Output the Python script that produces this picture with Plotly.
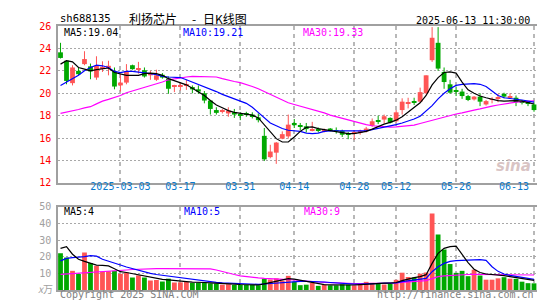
import plotly.graph_objects as go

dates = ["02-17","02-18","02-19","02-20","02-21","02-24","02-25","02-26","02-27","02-28",
         "03-03","03-04","03-05","03-06","03-07","03-10","03-11","03-12","03-13","03-14",
         "03-17","03-18","03-19","03-20","03-21","03-24","03-25","03-26","03-27","03-28",
         "03-31","04-01","04-02","04-03","04-07","04-08","04-09","04-10","04-11","04-14",
         "04-15","04-16","04-17","04-18","04-21","04-22","04-23","04-24","04-25","04-28",
         "04-29","04-30","05-06","05-07","05-08","05-09","05-12","05-13","05-14","05-15",
         "05-16","05-19","05-20","05-21","05-22","05-23","05-26","05-27","05-28","05-29",
         "05-30","06-03","06-04","06-05","06-06","06-09","06-10","06-11","06-12","06-13"]

open_ = [23.65,22.9,20.9,22.0,22.6,22.4,21.4,22.2,22.3,21.95,
         20.7,20.95,22.5,22.15,22.05,21.6,21.2,21.65,21.3,20.6,
         20.62,20.65,20.55,20.35,20.0,19.35,18.5,18.35,18.2,18.3,
         18.15,18.2,18.1,17.85,16.2,14.3,14.7,15.95,16.15,17.35,
         17.1,17.05,16.7,16.8,16.55,16.85,16.72,16.65,16.35,16.4,
         16.45,16.6,17.1,17.6,17.65,17.8,17.5,18.5,19.1,19.3,
         19.25,20.0,22.95,24.5,21.9,20.8,20.25,20.15,19.75,19.45,
         19.7,19.0,19.4,19.55,19.95,19.6,19.6,19.25,19.15,19.0]
high = [24.5,22.95,22.5,22.3,23.75,22.65,23.3,22.85,22.9,22.3,
        21.7,22.6,22.55,22.8,22.3,22.0,22.1,21.8,21.5,20.75,
        20.9,21.2,20.7,20.7,20.2,19.4,18.75,18.6,18.75,18.6,
        18.3,18.35,18.3,18.2,16.9,15.4,15.65,16.6,18.1,17.7,
        17.35,17.35,17.45,16.95,16.85,16.9,16.95,16.75,16.55,16.65,
        16.75,17.0,17.75,18.0,18.1,17.85,18.5,19.55,19.6,19.6,
        20.5,21.6,25.9,25.9,22.3,21.2,20.6,20.4,19.85,19.75,
        20.0,19.4,19.65,19.95,20.05,20.0,19.8,19.4,19.3,19.2]
low = [23.1,20.8,20.7,21.6,22.5,21.25,21.2,21.9,21.6,20.35,
       20.15,20.8,22.1,21.75,21.4,21.2,21.1,21.3,19.95,20.1,
       20.25,20.3,20.0,19.95,19.1,18.1,18.1,18.2,17.9,17.8,
       17.6,17.9,17.75,17.4,13.95,14.2,13.7,15.9,15.95,16.9,
       16.7,16.5,16.6,16.5,16.5,16.6,16.4,16.1,15.9,15.85,
       16.3,16.5,17.0,17.25,17.3,17.3,17.4,18.1,18.65,18.95,
       19.2,19.9,22.8,22.0,20.4,19.95,19.75,19.5,19.3,19.35,
       18.85,18.9,19.1,19.2,19.55,19.5,18.85,19.0,18.85,18.35]
close = [23.15,21.1,22.3,21.7,23.05,21.95,22.45,22.35,22.45,20.6,
         20.95,21.95,22.15,22.25,21.5,21.8,21.6,21.4,20.4,20.7,
         20.68,20.75,20.35,20.15,19.35,18.6,18.25,18.45,18.45,18.1,
         18.05,18.1,17.95,17.6,14.1,14.8,15.6,16.35,17.2,17.15,
         17.05,16.8,16.8,16.72,16.75,16.7,16.65,16.3,16.3,16.45,
         16.65,16.85,17.5,17.5,17.95,17.38,18.3,19.25,19.2,19.2,
         20.1,21.6,24.95,22.2,21.0,20.05,20.2,19.75,19.4,19.7,
         19.25,19.3,19.45,19.65,19.7,19.7,19.2,19.2,19.1,18.5]
volume = [22.0,19.5,11.5,9.6,22.5,16.2,14.5,11.0,11.3,11.5,
          9.7,10.5,7.5,8.8,7.5,5.7,6.0,5.1,6.8,4.5,
          4.6,4.8,4.3,4.2,4.5,4.0,3.9,3.2,3.5,3.0,
          3.0,3.0,3.0,2.9,6.8,6.3,7.0,5.6,8.5,5.0,
          2.9,3.2,4.2,2.5,3.2,2.8,2.8,3.4,3.2,2.8,
          3.8,4.9,4.3,4.2,3.3,3.6,6.1,10.4,7.8,7.5,
          9.8,10.5,46.0,33.3,24.4,15.6,10.3,11.5,8.3,12.2,
          8.7,6.2,6.2,7.0,7.7,6.8,6.7,5.0,4.1,4.0]

ma5 = [22.6,22.9,22.8,22.3,22.15,22.0,22.1,22.15,22.25,21.85,
       21.7,21.6,21.6,21.6,21.75,21.8,21.75,21.6,21.3,21.1,
       20.9,20.75,20.45,20.15,19.8,19.35,18.95,18.7,18.45,18.3,
       18.2,18.15,18.05,17.8,17.2,16.5,15.95,15.65,15.65,16.1,
       16.6,16.95,17.0,16.85,16.75,16.65,16.55,16.45,16.4,16.4,
       16.5,16.6,16.8,17.05,17.25,17.4,17.6,17.9,18.3,18.75,
       19.15,19.8,20.75,21.4,21.85,21.9,21.8,21.0,20.3,20.0,
       19.75,19.6,19.45,19.35,19.3,19.35,19.35,19.3,19.2,19.04]
ma10 = [20.7,21.0,21.3,21.6,22.0,22.3,22.5,22.45,22.3,21.95,
        21.85,21.95,21.95,21.9,21.85,21.75,21.65,21.5,21.45,21.45,
        21.4,21.2,21.0,20.8,20.6,20.35,20.15,19.9,19.7,19.5,
        19.3,19.1,18.75,18.3,17.8,17.35,17.1,16.85,16.7,16.65,
        16.6,16.45,16.4,16.45,16.6,16.65,16.65,16.65,16.6,16.6,
        16.6,16.65,16.75,16.85,16.95,17.05,17.2,17.35,17.5,17.7,
        17.95,18.4,18.9,19.5,20.0,20.4,20.7,20.8,20.85,20.85,
        20.8,20.6,20.2,19.8,19.6,19.55,19.5,19.4,19.3,19.21]
ma30 = [18.2,18.3,18.4,18.55,18.7,18.8,19.05,19.3,19.45,19.6,
        19.8,20.05,20.2,20.4,20.55,20.7,20.85,21.0,21.2,21.3,
        21.4,21.45,21.5,21.5,21.5,21.5,21.45,21.3,21.15,21.05,
        20.95,20.8,20.6,20.4,20.15,19.9,19.6,19.35,19.15,19.0,
        18.85,18.75,18.55,18.4,18.25,18.05,17.9,17.75,17.6,17.45,
        17.3,17.2,17.1,17.05,17.0,16.98,17.0,17.03,17.1,17.15,
        17.3,17.45,17.6,17.75,17.9,18.0,18.15,18.25,18.4,18.5,
        18.6,18.75,18.85,18.95,19.05,19.15,19.2,19.25,19.3,19.33]
vol_ma5 = [25.0,26.0,21.5,18.5,17.2,16.0,14.9,14.8,14.5,12.8,
           11.0,10.5,9.8,9.0,8.5,7.8,7.0,6.4,6.1,5.6,
           5.3,5.0,4.7,4.4,4.5,4.3,4.2,4.0,3.8,3.5,
           3.3,3.2,3.1,3.0,3.7,4.4,5.2,5.8,6.8,6.5,
           5.8,5.0,4.6,3.6,3.2,3.1,3.0,3.0,3.1,3.0,
           3.2,3.5,3.8,4.2,4.1,4.1,4.5,5.6,6.6,7.4,
           8.0,9.2,16.0,22.0,25.0,26.0,26.3,21.0,16.5,12.5,
           10.5,9.6,9.3,9.2,8.6,8.0,7.5,7.0,6.6,5.8]
vol_ma10 = [17.5,19.0,19.4,19.5,20.0,20.6,20.3,18.5,17.2,16.0,
            15.0,13.8,12.8,11.7,10.8,10.0,9.3,8.8,8.2,7.7,
            7.2,6.8,6.4,6.0,5.5,5.0,4.6,4.3,4.1,3.9,
            3.7,3.6,3.5,3.4,3.6,3.9,4.2,4.5,5.0,5.2,
            5.2,5.2,5.2,5.0,4.8,4.5,4.2,3.9,3.7,3.5,
            3.5,3.6,3.6,3.7,3.8,4.0,4.3,5.0,5.4,5.8,
            6.3,7.0,11.0,14.0,16.0,17.2,17.6,17.8,18.0,18.2,
            18.2,17.8,14.0,11.2,9.6,8.8,8.3,7.7,7.2,6.4]
vol_ma30 = [9.4,9.6,9.8,10.0,10.2,10.4,10.6,10.8,11.1,11.4,
            11.7,12.0,12.3,12.5,12.6,12.7,12.8,12.8,12.8,12.8,
            12.8,12.8,12.8,12.8,12.8,12.7,12.0,11.0,10.0,9.3,
            8.5,8.0,7.6,7.3,7.0,6.7,6.5,6.3,6.2,6.0,
            5.6,5.3,5.0,4.8,4.6,4.4,4.2,4.0,3.9,3.9,
            3.9,3.9,3.9,3.9,4.0,4.0,4.2,4.6,4.9,5.1,
            5.3,5.6,6.8,8.0,8.5,8.8,9.0,9.2,9.3,9.4,
            9.4,9.4,9.4,9.4,9.3,9.3,9.2,9.2,9.1,9.0]

price_ticks = [12, 14, 16, 18, 20, 22, 24, 26]
vol_ticks = [10, 20, 30, 40, 50]
date_ticks = ["03-03", "03-17", "03-31", "04-14", "04-28", "05-12", "05-26", "06-13"]
date_tick_labels = ["2025-03-03", "03-17", "03-31", "04-14", "04-28", "05-12", "05-26", "06-13"]

RED = "#ff5555"
GREEN = "#00a800"
MONO = "DejaVu Sans Mono"
CJK = "Noto Sans CJK SC"

up = [c >= o for o, c in zip(open_, close)]
colors = [RED if u else GREEN for u in up]
body_base = [min(o, c) for o, c in zip(open_, close)]
body_h = [max(abs(c - o), 0.07) for o, c in zip(open_, close)]

fig = go.Figure()

# wicks
for flag, col in ((True, RED), (False, GREEN)):
    wx, wy = [], []
    for d, h, l, u in zip(dates, high, low, up):
        if u == flag:
            wx += [d, d, None]
            wy += [l, h, None]
    fig.add_trace(go.Scatter(x=wx, y=wy, mode="lines", line=dict(color=col, width=1),
                             xaxis="x", yaxis="y", hoverinfo="skip"))

fig.add_trace(go.Bar(x=dates, y=body_h, base=body_base, width=0.8,
                     marker=dict(color=colors, line=dict(width=0)), xaxis="x", yaxis="y"))

for vals, col in ((ma30, "#ff00ff"), (ma10, "#0000ff"), (ma5, "#000000")):
    fig.add_trace(go.Scatter(x=dates, y=vals, mode="lines", line=dict(color=col, width=1.2),
                             xaxis="x", yaxis="y"))

fig.add_trace(go.Bar(x=dates, y=volume, width=0.8,
                     marker=dict(color=colors, line=dict(width=0)), xaxis="x2", yaxis="y2"))
for vals, col in ((vol_ma30, "#ff00ff"), (vol_ma10, "#0000ff"), (vol_ma5, "#000000")):
    fig.add_trace(go.Scatter(x=dates, y=vals, mode="lines", line=dict(color=col, width=1.2),
                             xaxis="x2", yaxis="y2"))

xcommon = dict(type="category", categoryorder="array", categoryarray=dates,
               range=[-0.42, len(dates) - 0.5], tickvals=date_ticks,
               showgrid=True, gridcolor="#b8b8b8", gridwidth=1.5, griddash="4px,4px",
               showline=True, mirror=True, linecolor="#a0a0a0", linewidth=1.5,
               ticks="", zeroline=False, fixedrange=True)

fig.update_layout(
    width=545, height=300,
    margin=dict(l=50, r=16, t=18, b=14),
    paper_bgcolor="white", plot_bgcolor="white",
    showlegend=False, hovermode=False, barmode="overlay",
    xaxis=dict(**xcommon, anchor="y",
               ticktext=date_tick_labels[:-1] + [""],
               ticklabelstandoff=-7,
               tickfont=dict(family=MONO, size=10, color="#0a7acc")),
    xaxis2=dict(**xcommon, anchor="y2", matches="x", showticklabels=False),
    yaxis=dict(domain=[0.4056, 1.0], range=[12, 26], tickvals=price_ticks,
               tickfont=dict(family=MONO, size=10, color="#ff0000"),
               showgrid=True, gridcolor="#a8a8a8", gridwidth=1, griddash="2px,2px",
               showline=True, mirror=True, linecolor="#a0a0a0", linewidth=1.5,
               zeroline=False, ticks="", ticklabelstandoff=3, fixedrange=True),
    yaxis2=dict(domain=[0.0, 0.3153], range=[0, 50], tickvals=vol_ticks,
                tickfont=dict(family=MONO, size=10, color="#a0a0a0"),
                showgrid=True, gridcolor="#a8a8a8", gridwidth=1, griddash="2px,2px",
                showline=True, mirror=True, linecolor="#a0a0a0", linewidth=1.5,
                zeroline=False, ticks="", ticklabelstandoff=3, fixedrange=True),
)

def txt(x, y, s, color, size=10, family=MONO, xanchor="left", xref="paper", yref="paper"):
    fig.add_annotation(x=x, y=y, xref=xref, yref=yref, text=s, showarrow=False,
                       xanchor=xanchor, yanchor="middle",
                       font=dict(family=family, size=size, color=color))

# header
txt(0.0, 1.030, "sh688135", "#000000", size=10.5)
txt(0.1446, 1.029, "利扬芯片", "#000000", size=12, family=CJK)
txt(0.2756, 1.029, "-", "#000000", size=12, family=CJK)
txt(0.2990, 1.029, "日K线图", "#000000", size=12, family=CJK)
txt(0.99, 1.022, "2025-06-13 11:30:00", "#000000", xanchor="right")

# MA labels
txt(0.008, 0.974, "MA5:%.2f" % ma5[-1], "#000000")
txt(0.256, 0.974, "MA10:%.2f" % ma10[-1], "#0000ff")
txt(0.508, 0.974, "MA30:%.2f" % ma30[-1], "#ff00ff")
txt(0.008, 0.2985, "MA5:4", "#000000")
txt(0.258, 0.2985, "MA10:5", "#0000ff")
txt(0.509, 0.2985, "MA30:9", "#ff00ff")

# last date label, right-aligned to its grid line
fig.add_annotation(x=date_ticks[-1], y=0.392, xref="x", yref="paper", text=date_tick_labels[-1],
                   showarrow=False, xanchor="right", yanchor="middle", xshift=-3,
                   font=dict(family=MONO, size=10, color="#0a7acc"))

# unit + footer
txt(-0.046, 0.004, "<i>x</i>万", "#a0a0a0", size=10, family=CJK)
txt(0.0, -0.018, "Copyright 2025 SINA.COM", "#808080")
txt(0.998, -0.018, "http://finance.sina.com.cn", "#808080", xanchor="right")

# watermark
txt(0.992, 0.47, "<b><i>sina</i></b>", "rgba(200,170,170,0.7)", size=15, family="DejaVu Sans",
    xanchor="right")

fig.write_html("out.html")
